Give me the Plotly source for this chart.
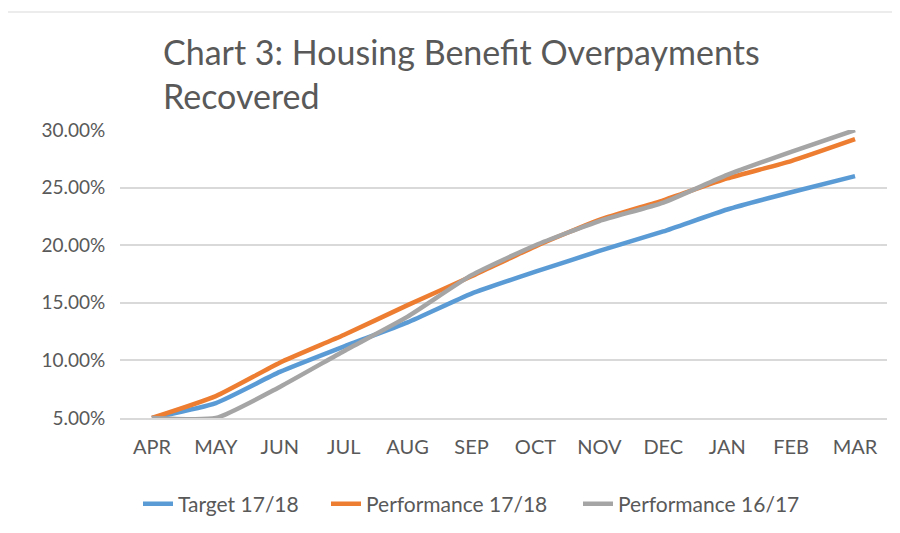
import plotly.graph_objects as go

months = ["APR", "MAY", "JUN", "JUL", "AUG", "SEP", "OCT", "NOV", "DEC", "JAN", "FEB", "MAR"]
target_1718 = [5.0, 6.3, 9.0, 11.2, 13.3, 15.8, 17.7, 19.5, 21.2, 23.1, 24.6, 26.0]
perf_1718 = [5.0, 6.9, 9.8, 12.2, 14.8, 17.3, 19.9, 22.2, 23.9, 25.8, 27.3, 29.2]
perf_1617 = [5.0, 5.0, 7.7, 10.8, 13.8, 17.4, 20.0, 22.1, 23.7, 26.1, 28.1, 30.0]
y_ticks = [5, 10, 15, 20, 25, 30]

series = [
    ("Target 17/18", target_1718, "#5B9BD5", "legend"),
    ("Performance 17/18", perf_1718, "#ED7D31", "legend2"),
    ("Performance 16/17", perf_1617, "#A5A5A5", "legend3"),
]

fig = go.Figure()
for name, vals, col, lg in series:
    fig.add_trace(go.Scatter(
        x=months, y=vals, name=name, mode="lines",
        line=dict(color=col, width=4.5, shape="spline", smoothing=0.5),
        cliponaxis=False, legend=lg,
    ))

font_family = "Lato, Carlito, Calibri, sans-serif"
L, R, T, B = 112, 21, 122, 123
PW, PH = 900 - L - R, 533 - T - B

def px_x(x):
    return (x - L) / PW

def px_y(y):
    return (533 - B - y) / PH

legend_common = dict(
    orientation="h", xanchor="left", yanchor="middle", y=px_y(496),
    font=dict(size=21, color="#595959"), bgcolor="rgba(0,0,0,0)",
)

fig.update_layout(
    width=900, height=533,
    paper_bgcolor="white", plot_bgcolor="white",
    margin=dict(l=L, r=R, t=T, b=B),
    font=dict(family=font_family, color="#595959", size=18),
    title=dict(
        text="Chart 3: Housing Benefit Overpayments<br>Recovered",
        font=dict(size=34, color="#595959", family=font_family),
        xref="container", x=155/900, xanchor="left",
        yref="container", y=1 - 57/533, yanchor="middle",
    ),
    showlegend=True,
    legend=dict(legend_common, x=px_x(130)),
    legend2=dict(legend_common, x=px_x(318)),
    legend3=dict(legend_common, x=px_x(570)),
    shapes=[dict(
        type="rect", xref="paper", yref="paper",
        x0=px_x(-3), x1=px_x(905),
        y0=px_y(540), y1=px_y(4),
        line=dict(color="#d9d9d9", width=1), layer="below",
    )],
)
fig.update_xaxes(
    type="category", range=[-0.5, 11.5], showgrid=False,
    showline=True, linecolor="#d9d9d9", linewidth=2,
    ticks="outside", ticklen=10, tickcolor="rgba(0,0,0,0)",
    tickfont=dict(size=20, color="#595959"),
)
fig.update_yaxes(
    range=[5, 30], tickvals=y_ticks,
    ticktext=[f"{v:.2f}%" for v in y_ticks],
    showgrid=True, gridcolor="#d9d9d9", gridwidth=2,
    zeroline=False, showline=False,
    ticks="outside", ticklen=10, tickcolor="rgba(0,0,0,0)",
    tickfont=dict(size=19, color="#595959"),
)

fig.write_html("out.html")
